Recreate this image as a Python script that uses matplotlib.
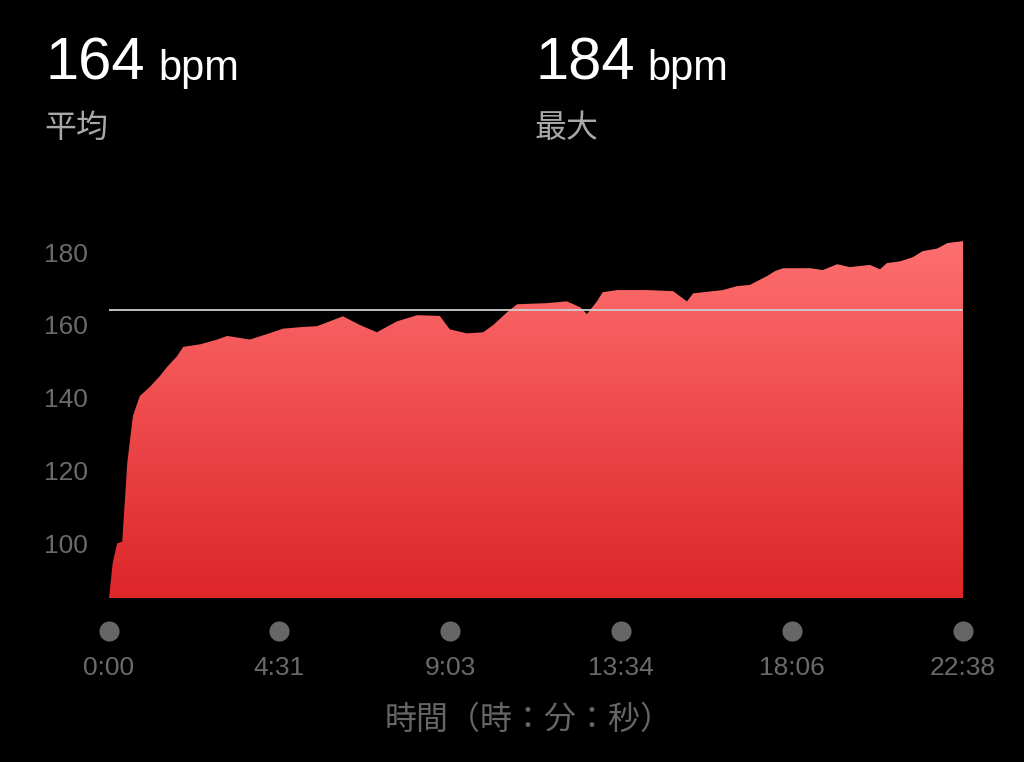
import matplotlib
matplotlib.use("Agg")
import matplotlib.pyplot as plt
import numpy as np
from matplotlib.colors import LinearSegmentedColormap

# ---- data ----
time_s = [0, 6, 13, 21, 29, 38, 49, 65, 81, 92, 108, 118, 145, 172, 188, 224, 251,
          277, 304, 331, 351, 372, 399, 426, 447, 458, 490, 526, 542, 569, 595, 611,
          633, 649, 696, 728, 749, 760, 776, 785, 808, 855, 897, 919, 929, 976, 999,
          1019, 1030, 1046, 1059, 1072, 1115, 1135, 1158, 1178, 1210, 1226, 1237,
          1258, 1278, 1294, 1317, 1333, 1356, 1358]
heart_rate = [85, 94.8, 100, 100.5, 122, 135, 140.5, 143, 146, 148.4, 151.4, 154, 154.7,
              156, 157, 156, 157.5, 159, 159.4, 159.7, 161, 162.4, 160, 158, 160, 161,
              162.7, 162.5, 158.8, 157.7, 158, 160, 163.5, 165.7, 166, 166.5, 164.9, 163,
              166.5, 169, 169.6, 169.6, 169.3, 166.5, 168.7, 169.6, 170.7, 171, 172,
              173.4, 174.8, 175.6, 175.6, 175.1, 176.7, 175.9, 176.5, 175.3, 177, 177.5,
              178.6, 180.3, 181, 182.5, 183, 183]
avg_bpm = 164
max_bpm = 184
xtick_pos = [0, 271, 543, 814, 1086, 1358]
xtick_labels = ["0:00", "4:31", "9:03", "13:34", "18:06", "22:38"]
yticks = [100, 120, 140, 160, 180]

W, H = 1024, 762
fig = plt.figure(figsize=(W / 100, H / 100), dpi=100, facecolor="black")

ymin, ymax = 85, 186
px_per = 3.64
ax_h = (ymax - ymin) * px_per
ax = fig.add_axes([109 / W, (H - 598) / H, 854 / W, ax_h / H])
ax.set_facecolor("black")
ax.set_xlim(0, 1358)
ax.set_ylim(ymin, ymax)
for s in ax.spines.values():
    s.set_visible(False)

# gradient fill clipped to area
poly = ax.fill_between(time_s, ymin, heart_rate, color="none", lw=0)
cmap = LinearSegmentedColormap.from_list("hr", ["#dd2629", "#ee4a4c", "#ff7070"])
grad = np.linspace(0, 1, 256).reshape(-1, 1)
im = ax.imshow(grad, cmap=cmap, aspect="auto", origin="lower",
               extent=[0, 1358, ymin, 184], zorder=1)
paths = poly.get_paths()
im.set_clip_path(paths[0], transform=ax.transData)

# average line
ax.axhline(avg_bpm, color="#cfcfcf", lw=1.3, zorder=3)

# y ticks
ax.set_yticks(yticks)
ax.set_yticklabels([str(v) for v in yticks])
ax.tick_params(axis="y", length=0, pad=15, labelsize=19, labelcolor="#6a6a6a")
# x ticks
ax.set_xticks(xtick_pos)
ax.set_xticklabels(xtick_labels)
ax.tick_params(axis="x", length=0, pad=42, labelsize=19, labelcolor="#6a6a6a")
for lab in ax.get_xticklabels() + ax.get_yticklabels():
    lab.set_fontfamily("Liberation Sans")

# dots under x axis
dot_y = ymin - 33 / px_per
ax.scatter(xtick_pos, [dot_y] * len(xtick_pos), s=210, color="#666666",
           clip_on=False, zorder=4, lw=0)

# header texts
def ft(x, y, s, **kw):
    fig.text(x / W, 1 - y / H, s, **kw)

ft(45, 80, str(avg_bpm), fontsize=43, color="white", va="baseline",
   family="Liberation Sans")
ft(158, 80, "bpm", fontsize=30, color="white", va="baseline", family="Liberation Sans")
ft(535, 80, str(max_bpm), fontsize=43, color="white", va="baseline",
   family="Liberation Sans")
ft(647, 80, "bpm", fontsize=30, color="white", va="baseline", family="Liberation Sans")
ft(44, 128, "平均", fontsize=23, color="#a8a8a8", va="center",
   family=["Noto Sans CJK JP", "DejaVu Sans"])
ft(534, 128, "最大", fontsize=23, color="#a8a8a8", va="center",
   family=["Noto Sans CJK JP", "DejaVu Sans"])
ft(529, 720, "時間（時：分：秒）", fontsize=23, color="#666666", va="center", ha="center",
   family=["Noto Sans CJK JP", "DejaVu Sans"])

fig.savefig("out.png", dpi=100, facecolor="black")
